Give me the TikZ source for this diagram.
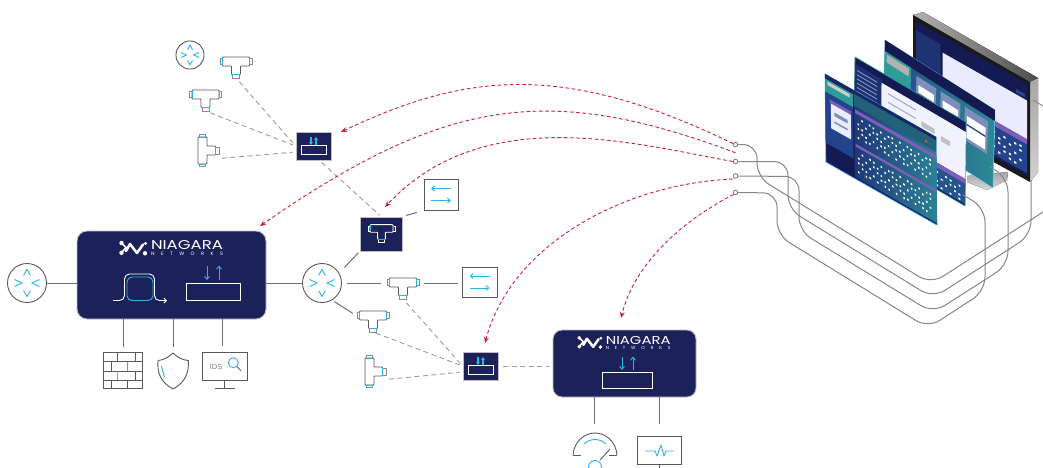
\documentclass[tikz,border=0pt]{standalone}
\usepackage{fontspec}
\usepackage{graphicx}
\usetikzlibrary{arrows.meta,calc}
\newfontfamily\logofont{Poppins}
\setmainfont{Liberation Sans}
\definecolor{navy}{HTML}{1C2159}
\definecolor{skyb}{HTML}{29B5E8}
\definecolor{linegray}{HTML}{6D6E71}
\definecolor{dashgray}{HTML}{9A9A9A}
\definecolor{framegray}{HTML}{BDBDC2}
\definecolor{iconline}{HTML}{58595B}
\definecolor{redline}{HTML}{C8203C}
\definecolor{cablegray}{HTML}{858587}
\definecolor{teal1}{HTML}{2F9C98}
\definecolor{blue1}{HTML}{24438A}
\definecolor{purple1}{HTML}{7D5FB5}
\definecolor{deep}{HTML}{141A52}
\tikzset{
  devbox/.style={draw=framegray,line width=0.9pt,fill=navy,inner sep=0pt},
  hollow/.style={draw=none,inner sep=0pt,outer sep=0pt},
  conn/.style={draw=linegray,line width=1pt},
  dashconn/.style={draw=dashgray,line width=0.9pt,dash pattern=on 5pt off 3.5pt},
  redconn/.style={draw=redline,line width=0.9pt,dash pattern=on 3.6pt off 2.6pt,-{Stealth[length=6pt,width=5pt]}},
  cable/.style={draw=cablegray,line width=1pt,rounded corners=14pt},
  port/.style={circle,draw=cablegray,fill=white,line width=0.9pt,minimum size=4.6pt,inner sep=0pt},
  blueline/.style={draw=skyb,line width=0.9pt},
  bluearrow/.style={draw=skyb,line width=0.9pt,-{Straight Barb[length=3pt,width=5pt]}},
  whitebox/.style={draw=white,line width=0.9pt},
  icon/.style={draw=iconline,line width=0.9pt,line join=miter},
  pics/routericon/.style={code={
    \draw[icon,fill=white] (0,0) circle (19.5);
    \draw[blueline] (-3.5,-7.5) -- (0,-13.5) -- (3.5,-7.5);
    \draw[blueline] (-3.5,7.5) -- (0,13.5) -- (3.5,7.5);
    \draw[blueline] (-12.5,-3.5) -- (-5,0) -- (-12.5,3.5);
    \draw[blueline] (12.5,-3.5) -- (5,0) -- (12.5,3.5);
  }},
  pics/teeicon/.style 2 args={code={
    \draw[draw=#1,line width=0.9pt,fill=none,rounded corners=0.8pt] (-13.5,-10.5) -- (13.5,-10.5) -- (13.5,-1.5) -- (4.5,-1.5) -- (4.5,7) -- (-4.5,7) -- (-4.5,-1.5) -- (-13.5,-1.5) -- cycle;
    \draw[draw=#1!70!white,line width=0.7pt] (-13.5,-9) -- (-16,-9) -- (-16,-3) -- (-13.5,-3);
    \draw[draw=#1!70!white,line width=0.7pt] (13.5,-9) -- (16,-9) -- (16,-3) -- (13.5,-3);
    \draw[draw=#1!70!white,line width=0.7pt] (-3.5,7) -- (-3.5,10.5) -- (3.5,10.5) -- (3.5,7);
    \draw[draw=#2,line width=0.9pt] (-13.5,-9.5) -- (-13.5,-2.5);
    \draw[draw=#2,line width=0.9pt] (13.5,-9.5) -- (13.5,-2.5);
    \draw[draw=#2,line width=0.9pt] (-4,7) -- (4,7);
  }},
  pics/swapicon/.style={code={
    \draw[bluearrow] (10,-6) -- (-10,-6);
    \draw[bluearrow] (-10,6) -- (10,6);
  }},
}
% small broker box: name, left x, top y
\newcommand\brokerbox[3]{%
  \node[devbox,minimum width=35pt,minimum height=28pt] (#1) at (#2+17.5,#3+14) {};
  \draw[whitebox] (#2+5,#3+13.5) rectangle (#2+30,#3+22.5);
  \draw[draw=skyb,line width=1.1pt,-{Stealth[length=3pt,width=4pt]}] (#2+15,#3+5) -- (#2+15,#3+13);
  \draw[draw=skyb,line width=1.1pt,-{Stealth[length=3pt,width=4pt]}] (#2+20,#3+13) -- (#2+20,#3+5);
}
\newcommand\nlogo[4]{%
  \begin{scope}[shift={(#2,#3)},scale=#4]
    \draw[white,line width=2.5pt,line cap=round,line join=round] (7,10) -- (11,3) -- (18,12) -- (24,3.5);
    \fill[white] (2.5,2) circle (2.2) (2.5,11.8) circle (2.2) (26,12.3) circle (2.2) (26.5,2.5) circle (1.6);
    \draw[white,line width=1.6pt] (2.5,2) -- (7,6.5) -- (2.5,11.8);
    \node[hollow,anchor=west,text=white,scale=#4] (#1name) at (32,4.5) {\resizebox{72pt}{9pt}{\logofont NIAGARA}};
    \node[hollow,anchor=west,text=white,scale=#4] (#1sub) at (32,13.2) {\resizebox{72pt}{3.4pt}{\logofont\addfontfeatures{LetterSpace=130}NETWORKS}};
  \end{scope}
}
% filled quadrilateral in the skewed axes of a screen: style, u0, v0, u1, v1
\newcommand\qf[5]{\fill[#1] (#2,#3) -- (#4,#3) -- (#4,#5) -- (#2,#5) -- cycle;}
% pattern of small dots in a screen: u0, u1, columns, v0, rows, colour
\newcommand\dotgrid[6]{%
  \pgfmathsetmacro{\du}{(#2-#1)/#3}
  \foreach \i in {1,...,#3}{\foreach \j in {1,...,#5}{
    \pgfmathtruncatemacro{\keep}{mod(\i*3+\j*7,5)>1 ? 1 : 0}
    \ifnum\keep=1
      \pgfmathsetmacro{\ua}{#1+(\i-1)*\du}
      \pgfmathsetmacro{\ub}{\ua+\du*0.42}
      \pgfmathsetmacro{\va}{#4+(\j-1)*0.052+mod(\i,2)*0.008}
      \pgfmathsetmacro{\vb}{\va+0.02}
      \qf{#6}{\ua}{\va}{\ub}{\vb}
    \fi
  }}
}
\begin{document}
\begin{tikzpicture}[x=1pt,y=-1pt]
\path[use as bounding box] (0,0) rectangle (1043,467);
\clip (0,0) rectangle (1043,467);

%% ---------- monitor and screens
\fill[top color=gray!70,bottom color=gray!30] (967,176) -- (1008,172) -- (1007,180) -- (987,190) -- (967,182) -- cycle;
\fill[left color=gray!60,right color=gray!60!black] (913,15) -- (923,12) -- (1038,78) -- (1030,82) -- cycle;
\fill[top color=gray!70,bottom color=gray!35] (1030,82) -- (1038,78) -- (1038,172) -- (1030,182) -- cycle;
\fill[black!90] (913,15) -- (1030,82) -- (1030,182) -- (913,118) -- cycle;
\begin{scope}[shift={(916,21)},x={(111pt,-63pt)},y={(0pt,-92pt)}]
  \qf{deep}{0}{0}{1}{1}
  \qf{blue1!60!deep}{0}{0.1}{0.22}{1}
  \qf{white!92!blue}{0.24}{0.18}{1}{0.6}
  \qf{purple1}{0.24}{0.6}{1}{0.66}
  \qf{blue1}{0.24}{0.66}{1}{0.97}
  \dotgrid{0.5}{0.98}{10}{0.7}{5}{white}
  \qf{blue1}{0.9}{0.12}{0.98}{0.16}
\end{scope}

% third screen
\begin{scope}[shift={(885,40)},x={(110pt,-70pt)},y={(-2pt,-78pt)}]
  \shade[left color=blue1,right color=teal1!80!blue1,draw=skyb!60,line width=0.5pt] (0,0) -- (1,0) -- (1,1) -- (0,1) -- cycle;
  \qf{deep}{0}{0}{1}{0.14}
  \qf{teal1}{0}{0.14}{0.24}{0.6}
  \qf{gray!60!white}{0.02}{0.17}{0.22}{0.27}
  \qf{blue1!60!white}{0.29}{0.2}{0.47}{0.62}
  \qf{blue1!60!white}{0.51}{0.2}{0.69}{0.62}
  \qf{blue1!60!white}{0.73}{0.2}{0.94}{0.62}
  \qf{white}{0.31}{0.3}{0.45}{0.58}
  \qf{white}{0.53}{0.3}{0.67}{0.58}
  \qf{white}{0.75}{0.3}{0.92}{0.58}
  \qf{blue1}{0.31}{0.4}{0.45}{0.42}
  \qf{blue1}{0.53}{0.4}{0.67}{0.42}
  \qf{blue1}{0.75}{0.4}{0.92}{0.42}
\end{scope}

% second screen
\begin{scope}[shift={(855,57)},x={(111pt,-65pt)},y={(-1pt,-84pt)}]
  \fill[deep,draw=teal1,line width=0.6pt] (0,0) -- (1,0) -- (1,1) -- (0,1) -- cycle;
  \qf{blue1!55!deep}{0}{0.08}{0.24}{1}
  \foreach \v in {0.14,0.19,...,0.7}{\pgfmathsetmacro{\vv}{\v+0.012}\qf{white!45!blue1}{0.02}{\v}{0.2}{\vv}}
  \qf{white!95!blue}{0.24}{0.12}{1}{0.68}
  \foreach \v in {0.2,0.3,0.4}{\pgfmathsetmacro{\vv}{\v+0.012}\qf{blue1!50!white}{0.3}{\v}{0.55}{\vv}}
  \qf{gray!50}{0.6}{0.3}{0.72}{0.36}
  \qf{gray!50}{0.78}{0.34}{0.86}{0.4}
  \qf{purple1}{0.24}{0.68}{1}{0.74}
  \qf{blue1!80!teal1}{0.24}{0.74}{1}{0.98}
  \dotgrid{0.7}{0.98}{7}{0.78}{4}{white}
\end{scope}

% first screen
\begin{scope}[shift={(825,74)},x={(111pt,-63pt)},y={(1pt,-88pt)}]
  \fill[deep,draw=skyb!80!blue,line width=0.6pt] (0,0) -- (1,0) -- (1,1) -- (0,1) -- cycle;
  \qf{deep!70!blue1}{0}{0}{1}{0.05}
  \qf{teal1}{0}{0.05}{0.25}{0.2}
  \qf{gray!40!white}{0.02}{0.07}{0.22}{0.11}
  \qf{blue1}{0}{0.2}{0.25}{0.78}
  \qf{purple1}{0.04}{0.26}{0.23}{0.3}
  \qf{white!92!blue}{0.05}{0.3}{0.23}{0.58}
  \qf{blue1!60!white}{0.08}{0.38}{0.2}{0.42}
  \qf{blue1!60!white}{0.08}{0.48}{0.2}{0.5}
  \shade[left color=blue1!70!deep,right color=teal1!70!blue1] (0.26,0.04) -- (1,0.04) -- (1,0.98) -- (0.26,0.98) -- cycle;
  \qf{teal1!55!deep}{0.26}{0.04}{1}{0.17}
  \qf{purple1}{0.27}{0.21}{1}{0.25}
  \qf{purple1}{0.27}{0.6}{1}{0.63}
  \dotgrid{0.29}{0.97}{20}{0.29}{5}{white}
  \dotgrid{0.29}{0.97}{20}{0.68}{5}{white}
  \qf{orange!80!black}{0.9}{0.1}{0.92}{0.125}
\end{scope}

%% ---------- left network
\node[devbox,rounded corners=10pt,minimum width=189pt,minimum height=88pt] (main) at (171.5,275) {};
\nlogo{mainlogo}{119}{241}{1}
\draw[white,line width=0.9pt,rounded corners=5pt] (113,300.5) -- (124.5,300.5) -- (124.5,274) -- (154.5,274) -- (154.5,300.5) -- (160,300.5);
\draw[white,line width=0.9pt,-{Straight Barb[length=2.5pt,width=5pt]}] (159,300.5) -- (167,300.5);
\draw[blueline,rounded corners=5pt] (127,277) rectangle (153,300.5);
\draw[whitebox] (186,283) rectangle (240,300.5);
\draw[bluearrow] (207,266) -- (207,280);
\draw[bluearrow] (219,280) -- (219,265.5);

\pic at (27,283) {routericon};
\node[hollow,circle,minimum size=39pt] (rtrL) at (27,283) {};
\pic at (322,283) {routericon};
\node[hollow,circle,minimum size=39pt] (rtrR) at (322,283) {};
\draw[conn] (rtrL.east) -- (rtrL.east -| main.west);
\draw[conn] (rtrR.west -| main.east) -- (rtrR.west);

% firewall
\node[hollow,minimum width=40pt,minimum height=36pt] (fw) at (123,370.5) {};
\draw[icon,line width=1pt] (103.3,352.7) rectangle (142.7,388.5);
\draw[icon] (103.3,361.7) -- (142.7,361.7) (103.3,371) -- (142.7,371) (103.3,380) -- (142.7,380);
\draw[icon] (117.3,352.7) -- (117.3,361.7) (135,352.7) -- (135,361.7) (111,361.7) -- (111,371) (117.3,371) -- (117.3,380) (135,371) -- (135,380) (111,380) -- (111,388.5) (127,380) -- (127,388.5);
\draw[blueline] (127,361.7) -- (127,371);
\draw[blueline] (117.3,371) -- (117.3,380);
% shield
\node[hollow,minimum width=30pt,minimum height=36pt] (shield) at (173,371) {};
\draw[icon,line join=round] (173,353) .. controls (178,358) and (183,360) .. (188.3,360.5) .. controls (189,372) and (186,382) .. (173,389) .. controls (160,382) and (157,372) .. (158,360.5) .. controls (163,360) and (168,358) .. (173,353) -- cycle;
\draw[blueline] (161.3,365.7) -- (164.5,377);
% IDS monitor
\node[draw=iconline,line width=1pt,minimum width=44.7pt,minimum height=28.3pt,inner sep=0pt] (ids) at (224.7,366.8) {};
\node[hollow,text=gray,font=\fontsize{7.5}{8}\selectfont] (idstxt) at (216,366.5) {IDS};
\draw[icon] (224.7,381) -- (224.7,388.5) (215,388.5) -- (234.5,388.5);
\draw[blueline] (233.3,362.7) circle (5);
\draw[icon] (237,366.7) -- (241,370.7);

\draw[conn] (main.south -| fw) -- ([yshift=6pt]fw.north);
\draw[conn] (main.south -| shield) -- ([yshift=6pt]shield.north);
\draw[conn] ([xshift=-2pt]main.south -| ids) -- ([xshift=-2pt,yshift=6pt]ids.north);

%% ---------- top cluster
\pic[scale=0.72] at (190,55) {routericon};
\node[hollow,circle,minimum size=28pt] (rtrT) at (190,55) {};
\pic at (236,67.5) {teeicon={iconline}{skyb}};
\node[hollow,minimum width=32pt,minimum height=21pt] (teeA) at (236,67.5) {};
\pic at (205.5,100.5) {teeicon={iconline}{skyb}};
\node[hollow,minimum width=32pt,minimum height=21pt] (teeB) at (205.5,100.5) {};
\pic[rotate=90] at (208.5,150.5) {teeicon={iconline}{skyb}};
\node[hollow,minimum width=21pt,minimum height=32pt] (teeC) at (208.5,150.5) {};
\brokerbox{brkT}{296}{132}
\draw[dashconn,shorten <=5pt,shorten >=3pt] (teeA.south) -- (brkT.west);
\draw[dashconn,shorten <=5pt,shorten >=3pt] (teeB.south) -- (brkT.west);
\draw[dashconn,shorten <=3pt,shorten >=3pt] ([yshift=-8pt]teeC.east) -- ([yshift=-6pt]brkT.west);

\node[devbox,minimum width=42pt,minimum height=34pt] (teeBox) at (381,234) {};
\pic[scale=0.85] at (381.5,233.5) {teeicon={white}{skyb}};
\draw[dashconn,shorten <=3pt,shorten >=2pt] ([xshift=6pt]brkT.south) -- ([xshift=0pt]teeBox.north);

\node[draw=iconline,line width=1pt,minimum width=34pt,minimum height=31pt,inner sep=0pt] (swapT) at (441,194.5) {};
\pic at (441,194.5) {swapicon};
\draw[conn,shorten <=4pt,shorten >=7pt] (teeBox.north east) -- (swapT.south west);

%% ---------- centre cluster
\draw[conn,shorten <=8pt,shorten >=2pt] (rtrR.30) -- (teeBox.south west);
\pic at (403,288.5) {teeicon={iconline}{skyb}};
\node[hollow,minimum width=32pt,minimum height=21pt] (teeD) at (403,288.5) {};
\node[draw=iconline,line width=1pt,minimum width=35pt,minimum height=30pt,inner sep=0pt] (swapD) at (479.5,282) {};
\pic at (479.5,282) {swapicon};
\draw[conn,shorten <=5pt,shorten >=6pt] (rtrR.east) -- (rtrR.east -| teeD.west);
\draw[conn,shorten <=5pt,shorten >=4pt] (rtrR.east -| teeD.east) -- (rtrR.east -| swapD.west);
\pic at (373,321.5) {teeicon={iconline}{skyb}};
\node[hollow,minimum width=32pt,minimum height=21pt] (teeE) at (373,321.5) {};
\pic[rotate=90] at (375.5,371.5) {teeicon={iconline}{skyb}};
\node[hollow,minimum width=21pt,minimum height=32pt] (teeF) at (375.5,371.5) {};
\draw[conn,shorten <=3pt,shorten >=5pt] (rtrR.-60) -- ([yshift=5.5pt]teeE.west);
\brokerbox{brkC}{463}{352}
\draw[dashconn,shorten <=5pt,shorten >=3pt] (teeD.south) -- (brkC.west);
\draw[dashconn,shorten <=3pt,shorten >=3pt] (teeE.south) -- (brkC.west);
\draw[dashconn,shorten <=3pt,shorten >=3pt] ([yshift=-8pt]teeF.east) -- ([yshift=-6pt]brkC.west);

%% ---------- lower right box
\node[devbox,rounded corners=9pt,minimum width=143pt,minimum height=67pt] (nboxB) at (624.5,363.5) {};
\nlogo{blogo}{577}{336}{0.9}
\draw[bluearrow] (622,357) -- (622,370);
\draw[bluearrow] (633,369.5) -- (633,356.5);
\draw[whitebox] (602,372) rectangle (652,388.5);
\draw[dashconn,shorten <=5pt,shorten >=4pt] (brkC.east) -- (brkC.east -| nboxB.west);

% gauge
\node[hollow,minimum width=44pt,minimum height=26pt] (gauge) at (594,446) {};
\draw[icon] (573,455) .. controls (574,441) and (585,433) .. (595,433) .. controls (605,433) and (616,441) .. (617,455);
\draw[icon] (573,455) -- (581,455) (609,455) -- (617,455);
\draw[blueline] (584,444) .. controls (590,438) and (600,438) .. (606,444);
\draw[blueline] (595,467) circle (6.5);
\draw[icon] (600,460) -- (610,449);
% pulse monitor
\node[draw=iconline,line width=1pt,minimum width=44pt,minimum height=28pt,inner sep=0pt] (pulse) at (659,450) {};
\draw[blueline,line join=round] (645,451) -- (655,451) -- (657,456) -- (661,445) -- (664,456) -- (666,451) -- (674,451);
\draw[icon] (659,464) -- (659,468);
\draw[conn] (nboxB.south -| gauge) -- ([yshift=9pt]gauge.north);
\draw[conn] (nboxB.south -| pulse) -- ([yshift=12pt]pulse.north);

%% ---------- ports and cables
\node[port] (p1) at (735.5,144.5) {};
\node[port] (p2) at (735.5,161.5) {};
\node[port] (p3) at (735.5,176) {};
\node[port] (p4) at (735.5,192.5) {};
\coordinate (c1e) at (1043,212);
\coordinate (c2e) at (1031,180);
\coordinate (c3e) at (990,167);
\coordinate (c4e) at (963,195);
\draw[cable] (p1.east) -- (757,144.5) -- (757,177) -- (931,284) -- (c1e);
\draw[cable] (p2.east) -- (788,161.5) -- (788,209) -- (933,298) -- (1031,235) -- (c2e);
\draw[cable] (p3.east) -- (799,176.5) -- (799,231) -- (933,313) -- (1008,265) -- (1008,178) -- (c3e);
\draw[cable] (p4.east) -- (777,193) -- (777,235) -- (928,328) -- (985,291) -- (985,208) -- (c4e);
\draw[draw=cablegray,line width=0.8pt] (1033,100) -- (1043,106);

%% ---------- red dashed arcs
\coordinate (r1) at (341,132);
\coordinate (r2) at (260,226);
\coordinate (r3) at (385,207);
\coordinate (r4) at (485,343);
\coordinate (r5) at (621,318);
\draw[redconn] (p1.160) .. controls (563,61) and (465,73) .. (r1);
\draw[redconn] ([yshift=6pt]p2.north) .. controls (549,83) and (446,97) .. (r2);
\draw[redconn] (p2.west) .. controls (635,144) and (484,101) .. (r3);
\draw[redconn] ([yshift=-3pt]p3.west) .. controls (620,184) and (510,247) .. (r4);
\draw[redconn] (p4.south west) .. controls (680,222) and (634,265) .. (r5);
\end{tikzpicture}
\end{document}
